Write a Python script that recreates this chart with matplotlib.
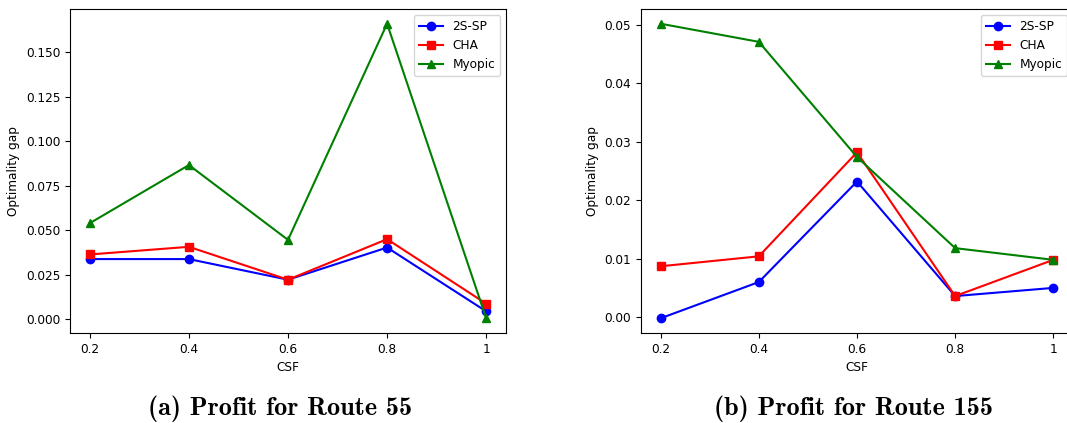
import matplotlib
matplotlib.use('Agg')
import matplotlib.pyplot as plt

csf = [0.2, 0.4, 0.6, 0.8, 1.0]
csf_labels = ['0.2', '0.4', '0.6', '0.8', '1']

# Route 55
r55_2ssp = [0.0337, 0.0337, 0.0221, 0.0402, 0.0043]
r55_cha = [0.0363, 0.0406, 0.0221, 0.0449, 0.0086]
r55_myopic = [0.0539, 0.0866, 0.0445, 0.1661, 0.0004]

# Route 155
r155_2ssp = [-0.0002, 0.0060, 0.0232, 0.0036, 0.0050]
r155_cha = [0.0087, 0.0104, 0.0282, 0.0036, 0.0098]
r155_myopic = [0.0502, 0.0471, 0.0274, 0.0118, 0.0098]

captions = ['(a) Profit for Route 55', '(b) Profit for Route 155']

W, H = 1067, 423
fig = plt.figure(figsize=(W / 100, H / 100), dpi=100)

def px_axes(x0, x1, y0, y1):
    return fig.add_axes([x0 / W, 1 - y1 / H, (x1 - x0) / W, (y1 - y0) / H])

ax1 = px_axes(70, 506, 9, 333)
ax2 = px_axes(641, 1073, 9, 333)

for ax, (a, b, c) in ((ax1, (r55_2ssp, r55_cha, r55_myopic)),
                      (ax2, (r155_2ssp, r155_cha, r155_myopic))):
    ax.plot(csf, a, 'b-o', label='2S-SP')
    ax.plot(csf, b, 'r-s', label='CHA')
    ax.plot(csf, c, 'g-^', label='Myopic')
    ax.set_xticks(csf)
    ax.set_xticklabels(csf_labels)
    ax.tick_params(labelsize=8.7)
    ax.set_xlabel('CSF', fontsize=8.7)
    ax.set_ylabel('Optimality gap', fontsize=8.7)
    ax.legend(loc='upper right', fontsize=8.7)

ax1.set_yticks([0, 0.025, 0.05, 0.075, 0.1, 0.125, 0.15])
ax2.set_yticks([0, 0.01, 0.02, 0.03, 0.04, 0.05])

fig.text(280 / W, 1 - 409 / H, captions[0], ha='center', va='center',
         fontsize=18.8, family='cmb10')
fig.text(853 / W, 1 - 409 / H, captions[1], ha='center', va='center',
         fontsize=18.8, family='cmb10')

fig.savefig('out.png', dpi=100)
